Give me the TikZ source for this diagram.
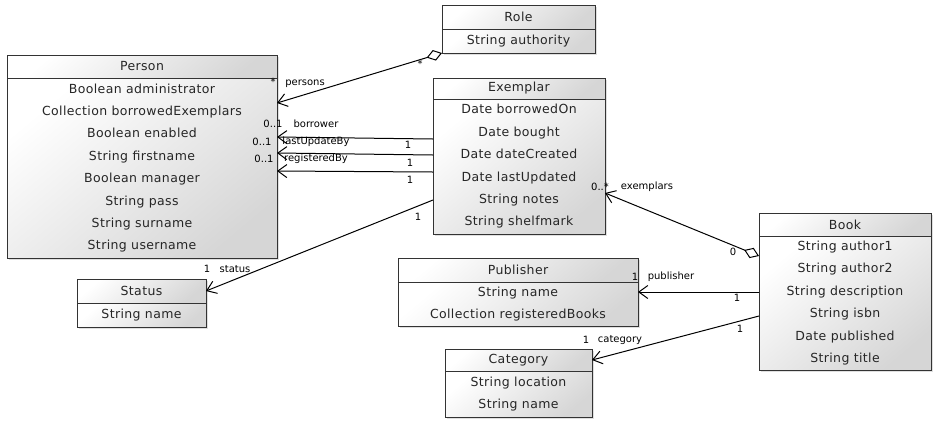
\documentclass[tikz,border=0pt]{standalone}
\usepackage{fontspec}
\setmainfont{DejaVu Sans}
\newfontfamily\umlfont[LetterSpace=3]{DejaVu Sans}
\usepackage{tikz}
\usetikzlibrary{arrows.meta,positioning,shadows}

\tikzset{
  umlpart/.style={draw=black!80, line width=0.8pt, outer sep=0pt, inner sep=2pt,
    top color=white, bottom color=black!16, shading angle=40, text=black!85,
    drop shadow={shadow xshift=2pt, shadow yshift=-2pt, opacity=0.25},
    font=\umlfont\fontsize{12.5}{22.4}\selectfont, align=center},
  classhead/.style={umlpart, anchor=north west, minimum height=23pt},
  classbody/.style={umlpart, below=0pt of #1},
  assoc/.style={line width=1pt, -{Straight Barb[length=9pt,width=13pt]}},
  aggr/.style={line width=1pt, {Diamond[open,length=16pt,width=11pt]}-{Straight Barb[length=9pt,width=13pt]}},
  mult/.style={font=\fontsize{10}{12}\selectfont, inner sep=0pt}
}

\begin{document}
\begin{tikzpicture}[x=1pt, y=-1pt]
  \useasboundingbox (0,0) rectangle (936,421);

  % classes
  \node (person)[classhead, minimum width=270pt] at (7,55) {Person};
  \node (personbody)[classbody=person, minimum width=270pt, minimum height=180pt]
    {Boolean administrator\\Collection borrowedExemplars\\Boolean enabled\\String firstname\\Boolean manager\\String pass\\String surname\\String username};

  \node (role)[classhead, minimum width=153pt, minimum height=24pt] at (442,5) {Role};
  \node (rolebody)[classbody=role, minimum width=153pt, minimum height=24pt] {String authority};

  \node (exemplar)[classhead, minimum width=172pt, minimum height=21pt] at (433,78) {Exemplar};
  \node (exemplarbody)[classbody=exemplar, minimum width=172pt, minimum height=135pt]
    {Date borrowedOn\\Date bought\\Date dateCreated\\Date lastUpdated\\String notes\\String shelfmark};

  \node (book)[classhead, minimum width=172pt] at (759,213) {Book};
  \node (bookbody)[classbody=book, minimum width=172pt, minimum height=134pt]
    {String author1\\String author2\\String description\\String isbn\\Date published\\String title};

  \node (status)[classhead, minimum width=129pt, minimum height=24pt] at (77,279) {Status};
  \node (statusbody)[classbody=status, minimum width=129pt, minimum height=24pt] {String name};

  \node (publisher)[classhead, minimum width=240pt, minimum height=24pt] at (398,258) {Publisher};
  \node (publisherbody)[classbody=publisher, minimum width=240pt, minimum height=44pt]
    {String name\\Collection registeredBooks};

  \node (category)[classhead, minimum width=147pt, minimum height=22pt] at (445,349) {Category};
  \node (categorybody)[classbody=category, minimum width=147pt, minimum height=46pt]
    {String location\\String name};

  % associations
  \draw [aggr] (rolebody.south west) -- ([yshift=-25pt]personbody.north east);
  \draw [assoc] ([yshift=-40pt]exemplarbody.north west) -- ([yshift=-59pt]personbody.north east);
  \draw [assoc] ([yshift=-56pt]exemplarbody.north west) -- ([yshift=-75pt]personbody.north east);
  \draw [assoc] ([yshift=-73pt]exemplarbody.north west) -- ([yshift=-93pt]personbody.north east);
  \draw [assoc] ([yshift=-101pt]exemplarbody.north west) -- (status.east);
  \draw [aggr] ([yshift=-20pt]bookbody.north west) -- ([yshift=-94pt]exemplarbody.north east);
  \draw [assoc] ([yshift=-56pt]bookbody.north west) -- ([yshift=-10pt]publisherbody.north east);
  \draw [assoc] ([yshift=-80pt]bookbody.north west) -- (category.east);

  % multiplicities and role names
  \node (personsmul)[mult] at (273,82) {*};
  \node (personsname)[mult] at (305,84) {persons};
  \node (rolemul)[mult] at (420,64) {*};

  \node (borrowermul)[mult] at (273,124) {0..1};
  \node (borrowername)[mult] at (316,124) {borrower};
  \node (borrowerone)[mult] at (408,145) {1};
  \node (updatemul)[mult] at (262,142) {0..1};
  \node (updatename)[mult] at (316,142) {lastUpdateBy};
  \node (updateone)[mult] at (410,163) {1};
  \node (registermul)[mult] at (264,159) {0..1};
  \node (registername)[mult] at (316,159) {registeredBy};
  \node (registerone)[mult] at (410,180) {1};

  \node (statusone)[mult] at (418,217) {1};
  \node (statusmul)[mult] at (207,269) {1};
  \node (statusname)[mult] at (235,269) {status};

  \node (exemplarsmul)[mult] at (600,187) {0..*};
  \node (exemplarsname)[mult] at (647,187) {exemplars};
  \node (bookzero)[mult] at (733,252) {0};

  \node (publishermul)[mult] at (635,277) {1};
  \node (publishername)[mult] at (671,277) {publisher};
  \node (publisherone)[mult] at (737,298) {1};

  \node (categorymul)[mult] at (586,340) {1};
  \node (categoryname)[mult] at (620,340) {category};
  \node (categoryone)[mult] at (740,329) {1};
\end{tikzpicture}
\end{document}
